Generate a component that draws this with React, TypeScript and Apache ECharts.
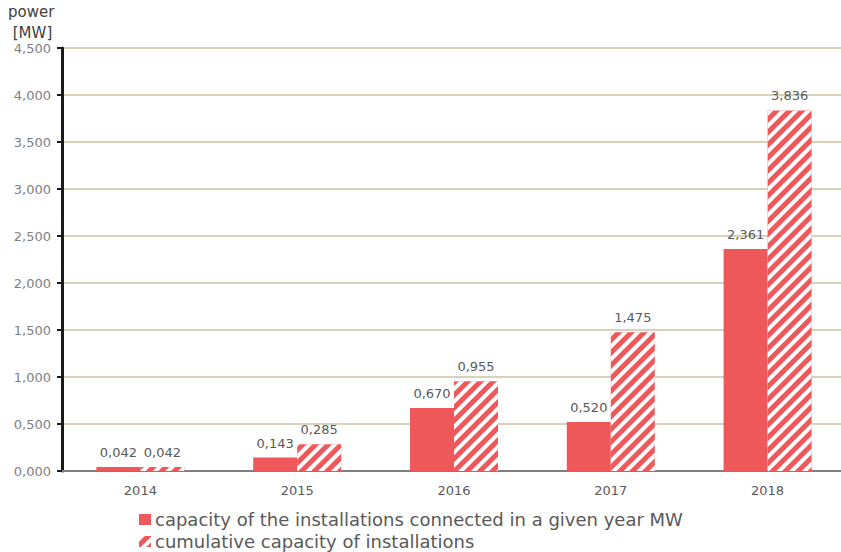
import React, { useEffect, useRef } from "react";
import * as echarts from "echarts";

const categories = ["2014", "2015", "2016", "2017", "2018"];
const yearlyCapacity = [0.042, 0.143, 0.67, 0.52, 2.361];
const cumulativeCapacity = [0.042, 0.285, 0.955, 1.475, 3.836];
const seriesNames = [
  "capacity of the installations connected in a given year MW",
  "cumulative capacity of installations",
];
const yTitle = "power\n [MW]";

const fmt = (v: number) => v.toFixed(3).replace(".", ",");

export default function App() {
  const ref = useRef<HTMLDivElement>(null);
  useEffect(() => {
    if (!ref.current) return;
    const chart = echarts.init(ref.current, undefined, { renderer: "svg" });
    const red = "#EF585B";
    const font = "DejaVu Sans";
    const labelStyle = {
      show: true,
      position: "top" as const,
      color: "#595959",
      fontSize: 13,
      fontFamily: font,
      distance: 8,
      formatter: (p: any) => fmt(p.value),
    };
    chart.setOption({
      animation: false,
      textStyle: { fontFamily: font },
      title: {
        text: yTitle,
        left: 8,
        top: 1,
        padding: 0,
        textStyle: {
          fontSize: 15,
          fontWeight: "normal",
          color: "#404040",
          fontFamily: font,
          lineHeight: 21,
        },
      },
      grid: {
        left: 62,
        top: 48,
        bottom: 81,
        width: 784,
        containLabel: false,
        outerBoundsMode: "none",
      },
      legend: {
        orient: "vertical",
        left: 139,
        top: 509,
        height: 43,
        padding: 0,
        itemWidth: 12,
        itemHeight: 11,
        itemGap: 1,
        icon: "rect",
        textStyle: {
          fontSize: 18,
          color: "#595959",
          fontFamily: font,
          lineHeight: 21,
          padding: [0, 0, 0, -1],
        },
        data: seriesNames,
      },
      xAxis: {
        type: "category",
        data: categories,
        axisLine: { lineStyle: { color: "#7F7F7F", width: 2 } },
        axisTick: { show: false },
        axisLabel: { color: "#595959", fontSize: 13, margin: 13 },
      },
      yAxis: {
        type: "value",
        min: 0,
        max: 4.5,
        interval: 0.5,
        axisLine: { show: true, lineStyle: { color: "#1a1a1a", width: 3 } },
        axisTick: { show: true, length: 5, lineStyle: { color: "#1a1a1a", width: 2 } },
        axisLabel: {
          color: "#808080",
          fontSize: 13,
          margin: 11,
          formatter: (v: number) => fmt(v),
        },
        splitLine: { lineStyle: { color: "#C9C5A3", width: 1.5 } },
      },
      series: [
        {
          name: seriesNames[0],
          type: "bar",
          data: yearlyCapacity,
          barWidth: 44,
          barGap: "0%",
          itemStyle: { color: red },
          label: labelStyle,
        },
        {
          name: seriesNames[1],
          type: "bar",
          data: cumulativeCapacity,
          barWidth: 44,
          barGap: "0%",
          itemStyle: {
            color: red,
            decal: {
              symbol: "rect",
              symbolSize: 1,
              dashArrayX: [1, 0],
              dashArrayY: [4, 4.5],
              rotation: -Math.PI / 4,
              color: "#ffffff",
            },
          },
          label: labelStyle,
        },
      ],
    });
    return () => chart.dispose();
  }, []);
  return (
    <div
      ref={ref}
      style={{ position: "fixed", left: 0, top: 0, width: 841, height: 552, background: "#fff" }}
    />
  );
}
